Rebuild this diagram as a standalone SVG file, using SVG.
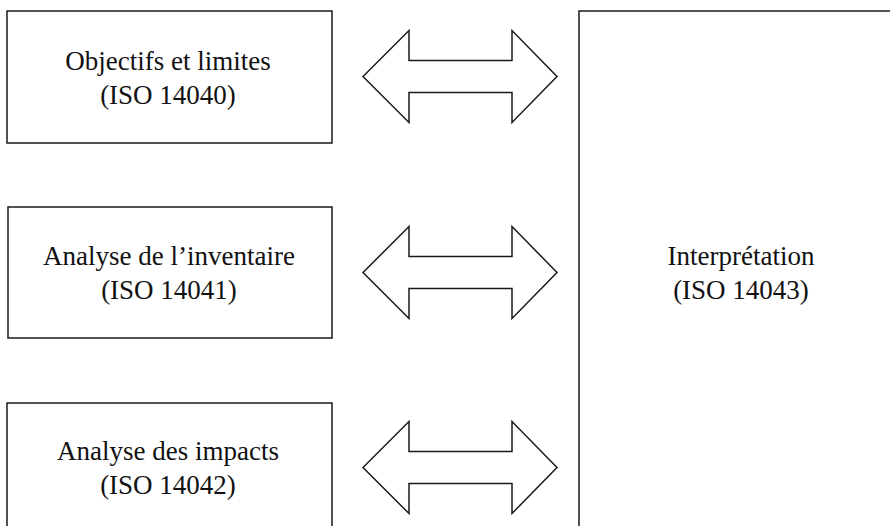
<svg xmlns="http://www.w3.org/2000/svg" xmlns:xlink="http://www.w3.org/1999/xlink" width="890" height="526" viewBox="0 0 890 526">
  <style>
    .box { fill: #ffffff; stroke: #1a1a1a; stroke-width: 1.5; }
    .arrow { fill: #ffffff; stroke: #1a1a1a; stroke-width: 1.5; stroke-linejoin: miter; }
    .label { font-family: "Liberation Serif", "Times New Roman", serif; font-size: 27px; fill: #111111; text-anchor: middle; }
  </style>
  <defs>
    <!-- double-headed block arrow, centred vertically on y=0 -->
    <path id="dbl-arrow" class="arrow" d="M363,0 L409,-46 L409,-16 L512,-16 L512,-46 L557,0 L512,46 L512,16 L409,16 L409,46 Z"/>
  </defs>
  <rect x="0" y="0" width="890" height="526" fill="#ffffff"/>

  <g id="node-objectifs">
    <rect class="box" x="7" y="11" width="325" height="132"/>
    <text class="label" x="168" y="70">Objectifs et limites</text>
    <text class="label" x="168" y="104">(ISO 14040)</text>
  </g>

  <g id="node-inventaire">
    <rect class="box" x="8" y="207" width="324" height="131"/>
    <text class="label" x="169" y="265">Analyse de l’inventaire</text>
    <text class="label" x="169" y="299">(ISO 14041)</text>
  </g>

  <g id="node-impacts">
    <rect class="box" x="7" y="403" width="325" height="140"/>
    <text class="label" x="168" y="460">Analyse des impacts</text>
    <text class="label" x="168" y="494">(ISO 14042)</text>
  </g>

  <g id="node-interpretation">
    <rect class="box" x="579" y="11" width="330" height="540"/>
    <text class="label" x="741" y="265">Interprétation</text>
    <text class="label" x="741" y="299">(ISO 14043)</text>
  </g>

  <g id="connectors">
    <use xlink:href="#dbl-arrow" transform="translate(0,76.5)"/>
    <use xlink:href="#dbl-arrow" transform="translate(0,272.5)"/>
    <use xlink:href="#dbl-arrow" transform="translate(0,467.5)"/>
  </g>
</svg>
